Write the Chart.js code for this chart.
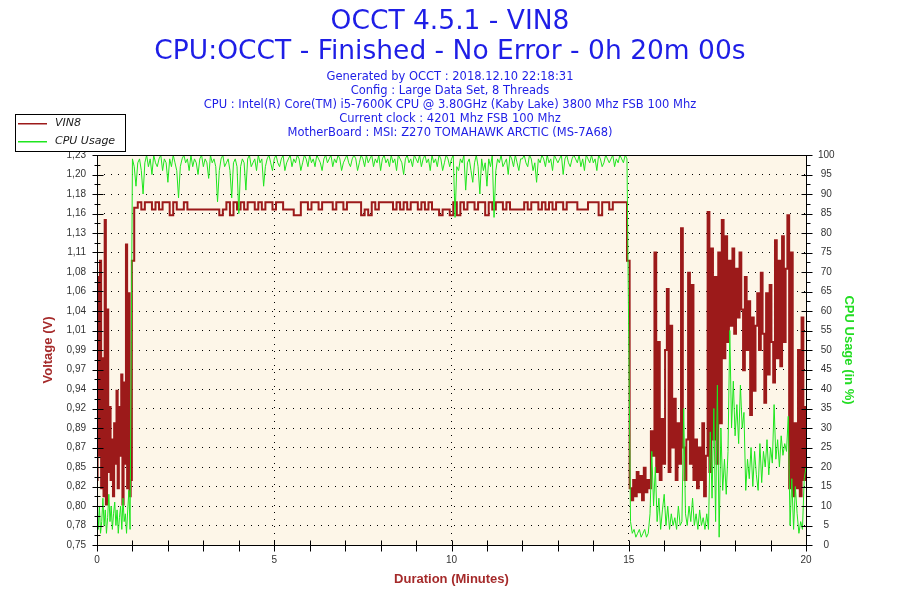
<!DOCTYPE html>
<html>
<head>
<meta charset="utf-8">
<title>OCCT 4.5.1 - VIN8</title>
<script src="https://cdn.jsdelivr.net/npm/chart.js@4.4.1/dist/chart.umd.min.js"></script>
<style>
  html, body { margin: 0; padding: 0; background: #ffffff; }
  canvas { display: block; }
</style>
</head>
<body>
<canvas id="occt-chart" width="900" height="600"></canvas>
<script>
const titleLines = [
  "OCCT 4.5.1 - VIN8",
  "CPU:OCCT - Finished - No Error - 0h 20m 00s",
];
const infoLines = [
  "Generated by OCCT : 2018.12.10 22:18:31",
  "Config : Large Data Set, 8 Threads",
  "CPU : Intel(R) Core(TM) i5-7600K CPU @ 3.80GHz (Kaby Lake) 3800 Mhz FSB 100 Mhz",
  "Current clock : 4201 Mhz FSB 100 Mhz",
  "MotherBoard : MSI: Z270 TOMAHAWK ARCTIC (MS-7A68)",
];
const seriesNames = ["VIN8", "CPU Usage"];
const seriesColors = ["#9c1a1a", "#1ee61e"];

// tick labels of the three axes
const voltLabels = [
  "0,75", "0,78", "0,80", "0,82", "0,85", "0,87", "0,89", "0,92", "0,94", "0,97",
  "0,99", "1,01", "1,04", "1,06", "1,08", "1,11", "1,13", "1,16", "1,18", "1,20", "1,23",
];
const durationLabels = [0, 5, 10, 15, 20];

// each series is read in three pieces: start, load and idle end
// first second of each piece and seconds between two readings
const voltPieceStart = [0, 60, 900];
const voltPieceStep = [2, 6, 3];
const cpuPieceStart = [0, 60, 900];
const cpuPieceStep = [2, 3, 3];

const startVolt = [
  0.83, 1.08, 0.86, 1.10, 0.82, 0.98, 0.81, 1.15, 0.80, 1.04,
  0.84, 0.92, 0.83, 0.88, 0.81, 0.90, 0.85, 0.94, 0.82, 0.92,
  0.86, 0.96, 0.80, 0.95, 0.85, 1.12, 0.82, 1.06, 0.81, 0.83,
];
const startCpu = [
  8, 4, 10, 3, 6, 12, 5, 9, 3, 7,
  13, 6, 10, 4, 8, 11, 5, 9, 3, 7,
  10, 4, 12, 6, 8, 3, 9, 14, 4, 52,
];

const midVolt = [
  1.100, 1.165, 1.172, 1.163, 1.172, 1.172, 1.163, 1.172, 1.163, 1.172,
  1.172, 1.156, 1.172, 1.163, 1.163, 1.172, 1.163, 1.163, 1.163, 1.163,
  1.163, 1.163, 1.163, 1.163, 1.163, 1.156, 1.163, 1.172, 1.156, 1.172,
  1.163, 1.172, 1.163, 1.172, 1.172, 1.163, 1.172, 1.163, 1.172, 1.172,
  1.163, 1.172, 1.172, 1.163, 1.163, 1.163, 1.156, 1.156, 1.172, 1.172,
  1.163, 1.172, 1.172, 1.163, 1.172, 1.172, 1.172, 1.163, 1.172, 1.172,
  1.163, 1.172, 1.172, 1.172, 1.172, 1.156, 1.163, 1.156, 1.172, 1.163,
  1.172, 1.172, 1.172, 1.172, 1.163, 1.172, 1.163, 1.172, 1.163, 1.172,
  1.172, 1.163, 1.172, 1.163, 1.172, 1.163, 1.163, 1.156, 1.163, 1.163,
  1.156, 1.172, 1.156, 1.172, 1.163, 1.172, 1.172, 1.163, 1.172, 1.172,
  1.156, 1.172, 1.163, 1.172, 1.172, 1.163, 1.172, 1.163, 1.163, 1.163,
  1.163, 1.172, 1.163, 1.172, 1.172, 1.163, 1.172, 1.163, 1.172, 1.163,
  1.172, 1.172, 1.163, 1.172, 1.172, 1.172, 1.163, 1.163, 1.163, 1.172,
  1.172, 1.172, 1.156, 1.172, 1.172, 1.163, 1.172, 1.172, 1.172, 1.172,
];
const midCpu = [
  99, 97, 92, 98, 99, 96, 90, 98, 100, 97,
  99, 95, 100, 98, 97, 99, 100, 96, 99, 98,
  93, 99, 97, 100, 98, 96, 89, 97, 99, 100,
  98, 99, 96, 100, 97, 99, 98, 95, 99, 100,
  97, 99, 98, 94, 100, 98, 99, 97, 88, 96,
  99, 100, 97, 98, 99, 96, 89, 98, 99, 97,
  85, 97, 99, 98, 91, 99, 100, 97, 98, 99,
  96, 100, 98, 99, 92, 97, 99, 100, 98, 96,
  99, 100, 98, 97, 99, 100, 96, 98, 99, 100,
  97, 99, 98, 100, 99, 96, 98, 100, 99, 97,
  100, 98, 99, 97, 100, 99, 98, 96, 99, 100,
  98, 99, 100, 97, 99, 98, 100, 99, 96, 98,
  99, 100, 98, 97, 99, 100, 99, 96, 98, 100,
  99, 97, 100, 98, 99, 100, 97, 99, 98, 100,
  96, 99, 100, 98, 99, 97, 100, 98, 99, 96,
  100, 99, 98, 95, 99, 100, 98, 99, 97, 100,
  99, 98, 100, 97, 99, 100, 98, 99, 96, 100,
  98, 99, 97, 100, 99, 96, 98, 100, 99, 97,
  99, 100, 84, 97, 96, 99, 98, 100, 91, 98,
  99, 96, 93, 98, 100, 97, 90, 99, 96, 98,
  92, 99, 97, 100, 84, 96, 99, 98, 100, 97,
  98, 99, 95, 100, 99, 97, 100, 98, 96, 99,
  99, 100, 98, 97, 100, 99, 96, 98, 93, 99,
  98, 100, 99, 97, 100, 98, 99, 96, 100, 99,
  98, 99, 100, 95, 99, 100, 98, 97, 99, 100,
  99, 98, 100, 97, 99, 96, 100, 99, 98, 100,
  98, 99, 96, 100, 99, 97, 98, 100, 99, 98,
  99, 100, 97, 99, 98, 100, 99, 98, 100, 99,
];

const endVolt = [
  1.100, 0.820, 0.805, 0.830, 0.810, 0.840, 0.815, 0.835, 0.805, 0.845,
  0.815, 0.830, 0.820, 0.890, 0.860, 1.110, 0.840, 1.000, 0.830, 0.905,
  0.850, 0.990, 1.065, 0.840, 1.020, 0.870, 0.930, 0.830, 0.900, 0.850,
  1.140, 0.870, 0.830, 0.880, 1.085, 0.850, 1.070, 0.830, 0.880, 0.820,
  0.870, 0.830, 0.900, 0.810, 0.860, 1.160, 0.840, 1.115, 0.880, 1.080,
  0.850, 1.110, 0.900, 1.150, 0.980, 1.130, 1.000, 1.100, 1.020, 1.115,
  1.010, 1.090, 1.030, 1.110, 1.040, 0.965, 1.080, 0.990, 1.050, 0.910,
  1.030, 0.940, 1.020, 1.060, 0.990, 1.085, 1.010, 0.925, 1.060, 0.960,
  1.070, 1.000, 0.950, 1.125, 0.980, 1.100, 0.970, 1.130, 1.000, 1.090,
  1.156, 0.820, 1.110, 0.810, 0.900, 0.820, 0.990, 0.810, 1.030, 0.830,
  0.920,
];
const endCpu = [
  53, 6, 3, 4, 2, 3, 4, 2, 3, 4,
  2, 3, 8, 24, 10, 20, 6, 12, 4, 9,
  13, 5, 10, 4, 8, 5, 7, 4, 10, 5,
  6, 35, 8, 5, 10, 6, 12, 5, 8, 4,
  9, 5, 7, 4, 8, 4, 29, 12, 35, 6,
  41, 2, 30, 14, 22, 13, 24, 55, 30, 42,
  28, 36, 26, 41, 30, 34, 14, 22, 17, 25,
  15, 24, 18, 14, 26, 16, 24, 20, 27, 18,
  25, 21, 36, 22, 27, 20, 28, 23, 26, 24,
  33, 5, 17, 4, 15, 8, 3, 6, 4, 17,
  20,
];

const fontName = "DejaVu Sans";
const tickFont = { family: "Liberation Sans", size: 10 };
const axisTitleFont = { family: "Liberation Sans", size: 13, weight: "bold" };

//turn one piece of readings into x/y points, x in minutes
function toPoints(values, startSec, stepSec) {
  return values.map((v, i) => ({ x: (startSec + i * stepSec) / 60, y: v }));
}

function joinPieces(pieces, starts, steps) {
  let points = [];
  pieces.forEach((values, p) => {
    points = points.concat(toPoints(values, starts[p], steps[p]));
  });
  return points;
}

const voltPoints = joinPieces([startVolt, midVolt, endVolt], voltPieceStart, voltPieceStep);
const cpuPoints = joinPieces([startCpu, midCpu, endCpu], cpuPieceStart, cpuPieceStep);

//cream plot background, black frame, ticks that cross the axes, and the old style legend box
const occtFrame = {
  id: "occtFrame",
  beforeDraw(chart) {
    const { ctx, chartArea: a } = chart;
    ctx.save();
    ctx.fillStyle = "#fdf6e8";
    ctx.fillRect(a.left, a.top, a.right - a.left, a.bottom - a.top);
    ctx.restore();
  },
  afterDraw(chart) {
    const { ctx, chartArea: a, scales } = chart;
    const px = (v) => Math.round(v) + 0.5;
    const left = px(a.left);
    const right = px(a.right);
    const top = px(a.top);
    const bottom = px(a.bottom);

    ctx.save();
    ctx.strokeStyle = "#000";
    ctx.lineWidth = 1;
    ctx.beginPath();
    ctx.rect(left, top, right - left, bottom - top);

    const volt = scales.yVolt;
    volt.ticks.forEach((t, i) => {
      const y = px(volt.getPixelForValue(t.value));
      ctx.moveTo(left - 5, y);
      ctx.lineTo(left + 6, y);
      if (i > 0) {
        const ym = px(volt.getPixelForValue((t.value + volt.ticks[i - 1].value) / 2));
        ctx.moveTo(left - 3, ym);
        ctx.lineTo(left + 3, ym);
      }
    });

    const cpu = scales.yCpu;
    cpu.ticks.forEach((t, i) => {
      const y = px(cpu.getPixelForValue(t.value));
      ctx.moveTo(right - 5, y);
      ctx.lineTo(right + 6, y);
      if (i > 0) {
        const ym = px(cpu.getPixelForValue((t.value + cpu.ticks[i - 1].value) / 2));
        ctx.moveTo(right, ym);
        ctx.lineTo(right + 4, ym);
      }
    });

    const dur = scales.x;
    dur.ticks.forEach((t) => {
      const x = px(dur.getPixelForValue(t.value));
      ctx.moveTo(x, bottom - 5);
      ctx.lineTo(x, bottom + 6);
    });
    ctx.stroke();

    // legend
    ctx.fillStyle = "#ffffff";
    ctx.fillRect(15.5, 114.5, 110, 37);
    ctx.strokeRect(15.5, 114.5, 110, 37);
    ctx.font = "italic 11px '" + fontName + "'";
    ctx.textBaseline = "middle";
    ctx.textAlign = "left";
    seriesNames.forEach((name, i) => {
      const y = 123 + i * 18;
      ctx.fillStyle = seriesColors[i];
      ctx.fillRect(18, y, 29, 1.5);
      ctx.fillStyle = "#1a1a1a";
      ctx.fillText(name, 55, y + 0.5);
    });
    ctx.restore();
  },
};

function mainFunction() {
  const canvas = document.getElementById("occt-chart");

  new Chart(canvas, {
    type: "line",
    data: {
      datasets: [
        {
          label: seriesNames[0],
          data: voltPoints,
          yAxisID: "yVolt",
          borderColor: seriesColors[0],
          borderWidth: 2,
          pointRadius: 0,
          stepped: "middle",
          order: 1,
        },
        {
          label: seriesNames[1],
          data: cpuPoints,
          yAxisID: "yCpu",
          borderColor: seriesColors[1],
          borderWidth: 1,
          pointRadius: 0,
          order: 0,
        },
      ],
    },
    options: {
      responsive: false,
      animation: false,
      devicePixelRatio: 1,
      layout: { padding: 0 },
      events: [],
      plugins: {
        legend: { display: false },
        tooltip: { enabled: false },
        title: {
          display: true,
          text: titleLines,
          color: "#1e1ee6",
          font: { family: fontName, size: 26.5, weight: "normal", lineHeight: 30 / 26.5 },
          padding: { top: 7, bottom: 2 },
        },
        subtitle: {
          display: true,
          text: infoLines,
          color: "#1e1ee6",
          font: { family: fontName, size: 11.5, lineHeight: 14 / 11.5 },
          padding: { top: 1, bottom: 15 },
        },
      },
      scales: {
        x: {
          type: "linear",
          position: "bottom",
          min: 0,
          max: 20,
          afterFit: (s) => { s.height = 55; },
          ticks: {
            stepSize: 1,
            autoSkip: false,
            maxRotation: 0,
            padding: 9,
            color: "#333",
            font: tickFont,
            callback: (v) => (durationLabels.includes(v) ? String(v) : ""),
          },
          grid: {
            drawTicks: false,
            color: (c) => (c.tick && [5, 10, 15].includes(c.tick.value) ? "#000" : "rgba(0,0,0,0)"),
          },
          border: { display: false, dash: [1, 6] },
          title: {
            display: true,
            text: "Duration (Minutes)",
            color: "#a52a2a",
            font: axisTitleFont,
            padding: { top: 0, bottom: 13 },
          },
        },
        yVolt: {
          type: "linear",
          position: "left",
          min: 0.75,
          max: 1.23,
          afterFit: (s) => { s.width = 97; },
          ticks: {
            stepSize: 0.024,
            autoSkip: false,
            padding: 11,
            color: "#333",
            font: tickFont,
            callback: (v, i) => voltLabels[i],
          },
          grid: { display: false, drawTicks: false },
          border: { display: false },
          title: {
            display: true,
            text: "Voltage (V)",
            color: "#a52a2a",
            font: axisTitleFont,
            padding: { top: 41, bottom: 0 },
          },
        },
        yCpu: {
          type: "linear",
          position: "right",
          min: 0,
          max: 100,
          afterFit: (s) => { s.width = 94; },
          ticks: {
            stepSize: 5,
            autoSkip: false,
            padding: 12,
            crossAlign: "center",
            color: "#333",
            font: tickFont,
          },
          grid: {
            drawTicks: false,
            color: (c) => (c.index === 0 || c.index === 20 ? "rgba(0,0,0,0)" : "#000"),
          },
          border: { display: false, dash: [1, 6] },
          title: {
            display: true,
            text: "CPU Usage (in %)",
            color: "#22dd22",
            font: axisTitleFont,
            padding: { top: 44, bottom: 0 },
          },
        },
      },
    },
    plugins: [occtFrame],
  });
}

mainFunction();
</script>
</body>
</html>
